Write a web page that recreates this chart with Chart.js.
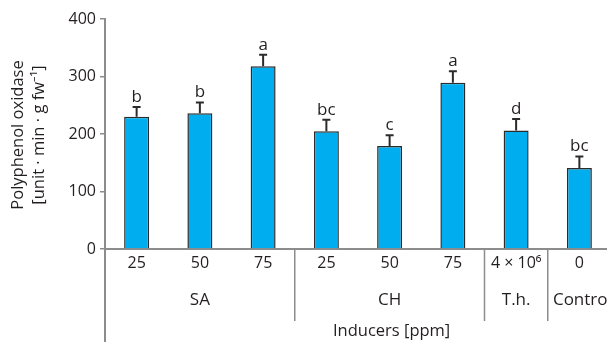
<!DOCTYPE html>
<html>
<head>
<meta charset="utf-8">
<script src="https://cdn.jsdelivr.net/npm/chart.js@4"></script>
<style>
  html, body { margin: 0; padding: 0; overflow: hidden; background: #fff; }
  #wrap { width: 611px; height: 342px; }
</style>
</head>
<body>
<div id="wrap"><canvas id="c" width="611" height="342"></canvas></div>
<script>
// Polyphenol oxidase activity by inducer and dose
const doses    = ['25', '50', '75', '25', '50', '75', '4 × 10⁶', '0'];
const groups   = ['SA', 'SA', 'SA', 'CH', 'CH', 'CH', 'T.h.', 'Control'];
const ppo      = [230, 236, 318, 205, 179, 289, 206, 141];
const ppoErr   = [17, 19, 20, 20, 19, 20, 20, 20];
const letters  = ['b', 'b', 'a', 'bc', 'c', 'a', 'd', 'bc'];
const yTicks   = [0, 100, 200, 300, 400];
const yTitle   = ['Polyphenol oxidase', '[unit · min · g fw⁻¹]'];
const xTitle   = 'Inducers [ppm]';

const FONT = '"Open Sans", "Noto Sans", sans-serif';
const TEXT = '#231f20';
const AXIS = '#8c8c8c';
const BAR  = '#00aeef';
const EDGE = '#2b2b2b';

const annotate = {
  id: 'annotate',
  afterDatasetsDraw(chart) {
    const ctx = chart.ctx;
    const y = chart.scales.y;
    const meta = chart.getDatasetMeta(0);
    ctx.save();
    meta.data.forEach((bar, i) => {
      const top = y.getPixelForValue(ppo[i] + ppoErr[i]);
      // upper error whisker with cap
      ctx.strokeStyle = EDGE;
      ctx.lineWidth = 2;
      ctx.beginPath();
      ctx.moveTo(bar.x, bar.y);
      ctx.lineTo(bar.x, top);
      ctx.moveTo(bar.x - 4, top);
      ctx.lineTo(bar.x + 4, top);
      ctx.stroke();
      // significance letter
      ctx.fillStyle = TEXT;
      ctx.font = '17px ' + FONT;
      ctx.textAlign = 'center';
      ctx.textBaseline = 'alphabetic';
      ctx.fillText(letters[i], bar.x, top - 5);
    });
    ctx.restore();
  },
  afterDraw(chart) {
    const ctx = chart.ctx;
    const x = chart.scales.x;
    const area = chart.chartArea;
    const H = chart.height;
    ctx.save();
    // y axis line runs down through the category block
    ctx.strokeStyle = AXIS;
    ctx.lineWidth = 2;
    ctx.beginPath();
    ctx.moveTo(area.left, area.bottom);
    ctx.lineTo(area.left, H);
    ctx.stroke();

    // separators between inducer groups and group names
    const spans = [];
    groups.forEach((g, i) => {
      const last = spans[spans.length - 1];
      if (last && last.name === g) last.end = i;
      else spans.push({ name: g, start: i, end: i });
    });
    ctx.lineWidth = 1.5;
    spans.forEach((s, k) => {
      if (k > 0) {
        const sx = (x.getPixelForValue(s.start - 1) + x.getPixelForValue(s.start)) / 2;
        ctx.beginPath();
        ctx.moveTo(sx, area.bottom);
        ctx.lineTo(sx, area.bottom + 72);
        ctx.stroke();
      }
      const cx = (x.getPixelForValue(s.start) + x.getPixelForValue(s.end)) / 2;
      ctx.fillStyle = TEXT;
      ctx.font = '17px ' + FONT;
      ctx.textAlign = 'center';
      ctx.textBaseline = 'middle';
      ctx.fillText(s.name, cx + (s.end === groups.length - 1 ? 3 : 0), area.bottom + 51);
    });

    // x axis title under the CH group
    const ch = spans.find(s => s.name === 'CH');
    const tx = (x.getPixelForValue(ch.start) + x.getPixelForValue(ch.end)) / 2;
    ctx.font = '16.5px ' + FONT;
    ctx.fillText(xTitle, tx + 2, area.bottom + 82);

    // rotated y axis title
    ctx.translate(0, (area.top + area.bottom) / 2 + 1);
    ctx.rotate(-Math.PI / 2);
    ctx.font = '16.5px ' + FONT;
    ctx.fillText(yTitle[0], 0, 18);
    ctx.fillText(yTitle[1], 0, 39);
    ctx.restore();
  }
};

new Chart(document.getElementById('c'), {
  type: 'bar',
  data: {
    labels: doses,
    datasets: [{
      data: ppo,
      backgroundColor: BAR,
      borderColor: EDGE,
      borderWidth: 1.5,
      borderSkipped: 'bottom',
      categoryPercentage: 1,
      barPercentage: 0.395
    }]
  },
  options: {
    responsive: false,
    animation: false,
    devicePixelRatio: 1,
    layout: { padding: { top: 19, right: 0, bottom: 0, left: 0 } },
    plugins: { legend: { display: false }, tooltip: { enabled: false } },
    scales: {
      x: {
        grid: { display: false, drawTicks: false },
        border: { display: true, color: AXIS, width: 2 },
        ticks: { color: TEXT, font: { family: FONT, size: 16 }, padding: 5, maxRotation: 0, autoSkip: false },
        afterFit(s) { s.height = 93; }
      },
      y: {
        min: 0,
        max: 400,
        afterBuildTicks(s) { s.ticks = yTicks.map(v => ({ value: v })); },
        grid: { drawOnChartArea: false, drawTicks: true, tickLength: 5, color: AXIS, lineWidth: 1.5 },
        border: { display: true, color: AXIS, width: 2 },
        ticks: { color: TEXT, font: { family: FONT, size: 16 }, padding: 4 },
        afterFit(s) { s.width = 105; }
      }
    }
  },
  plugins: [annotate]
});
</script>
</body>
</html>
